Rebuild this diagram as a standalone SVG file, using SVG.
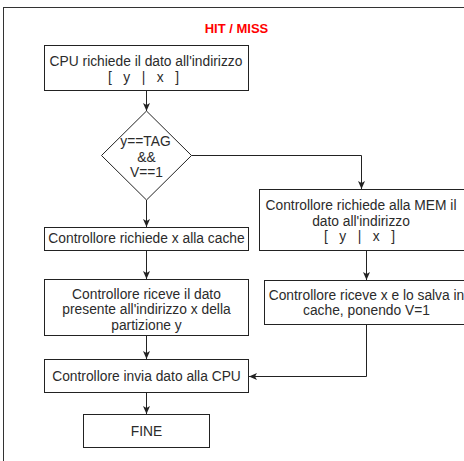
<svg xmlns="http://www.w3.org/2000/svg" width="464" height="461" viewBox="0 0 464 461">
  <style>
    .box { fill: #ffffff; stroke: #222222; stroke-width: 1; }
    .lbl { font-family: "Liberation Sans", Arial, Helvetica, sans-serif; font-size: 13.8px; fill: #2b2b2b; text-anchor: middle; white-space: pre; }
    .title { font-family: "Liberation Sans", Arial, Helvetica, sans-serif; font-size: 13px; font-weight: bold; fill: #ff0000; text-anchor: middle; }
    .edge { fill: none; stroke: #222222; stroke-width: 1; }
  </style>
  <defs>
    <marker id="arrow" viewBox="0 0 8 8" refX="8" refY="4" markerWidth="8" markerHeight="8" markerUnits="userSpaceOnUse" orient="auto">
      <path d="M0,0.5 L8,4 L0,7.5 L2,4 Z" fill="#222222"/>
    </marker>
  </defs>

  <rect width="464" height="461" fill="#ffffff"/>

  <!-- outer frame -->
  <rect x="3.5" y="7.5" width="470" height="470" fill="#ffffff" stroke="#333333" stroke-width="1"/>

  <text class="title" x="236.5" y="32.5">HIT / MISS</text>

  <!-- connectors -->
  <g id="connectors">
    <path class="edge" d="M146.5,91 L146.5,111" marker-end="url(#arrow)"/>
    <path class="edge" d="M146.5,200 L146.5,227" marker-end="url(#arrow)"/>
    <path class="edge" d="M191.5,155.5 L361.5,155.5 L361.5,189" marker-end="url(#arrow)"/>
    <path class="edge" d="M146.5,251 L146.5,279" marker-end="url(#arrow)"/>
    <path class="edge" d="M146.5,336 L146.5,359" marker-end="url(#arrow)"/>
    <path class="edge" d="M366.5,251 L366.5,280" marker-end="url(#arrow)"/>
    <path class="edge" d="M366.5,325 L366.5,376.5 L249,376.5" marker-end="url(#arrow)"/>
    <path class="edge" d="M146.5,393 L146.5,414" marker-end="url(#arrow)"/>
  </g>

  <g id="cpu-request">
    <rect class="box" x="44.5" y="45.5" width="204" height="45"/>
    <text class="lbl" x="146" y="66">CPU richiede il dato all'indirizzo</text>
    <text class="lbl" x="143.5" y="81.5" xml:space="preserve">[   y   |   x   ]</text>
  </g>

  <g id="hit-check">
    <polygon class="box" points="146.5,111 191.5,155.5 146.5,200 101.5,155.5"/>
    <text class="lbl" x="145.5" y="145.5">y==TAG</text>
    <text class="lbl" x="146.5" y="161.5">&amp;&amp;</text>
    <text class="lbl" x="146.5" y="176.5">V==1</text>
  </g>

  <g id="cache-request">
    <rect class="box" x="44.5" y="227.5" width="204" height="23"/>
    <text class="lbl" x="146.5" y="243">Controllore richiede x alla cache</text>
  </g>

  <g id="cache-receive">
    <rect class="box" x="44.5" y="279.5" width="204" height="56"/>
    <text class="lbl" x="146.5" y="298.5">Controllore riceve il dato</text>
    <text class="lbl" x="146.5" y="314">presente all'indirizzo x della</text>
    <text class="lbl" x="146.5" y="329.5">partizione y</text>
  </g>

  <g id="mem-request">
    <rect class="box" x="259.5" y="189.5" width="205" height="61"/>
    <text class="lbl" x="361" y="210">Controllore richiede alla MEM il</text>
    <text class="lbl" x="361" y="225.5">dato all'indirizzo</text>
    <text class="lbl" x="359.5" y="241" xml:space="preserve">[   y   |   x   ]</text>
  </g>

  <g id="mem-receive">
    <rect class="box" x="264.5" y="280.5" width="205" height="44"/>
    <text class="lbl" x="366.5" y="299.5">Controllore riceve x e lo salva in</text>
    <text class="lbl" x="366.5" y="315">cache, ponendo V=1</text>
  </g>

  <g id="send-cpu">
    <rect class="box" x="44.5" y="359.5" width="204" height="33"/>
    <text class="lbl" x="146.5" y="381">Controllore invia dato alla CPU</text>
  </g>

  <g id="end">
    <rect class="box" x="83.5" y="414.5" width="126" height="33"/>
    <text class="lbl" x="146.5" y="436">FINE</text>
  </g>
</svg>
